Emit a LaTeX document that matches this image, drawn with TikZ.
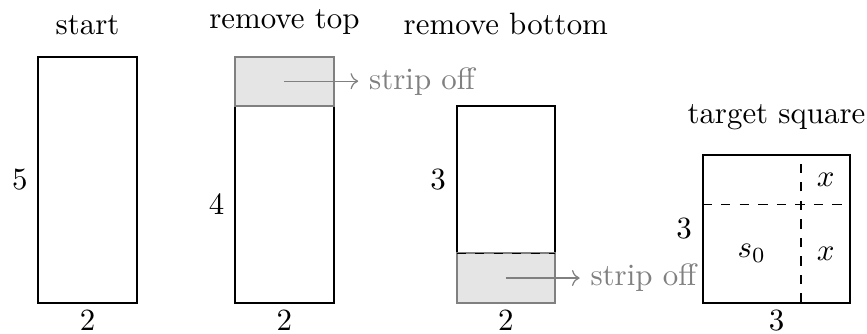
\documentclass[tikz,border=0pt]{standalone}
\usepackage{tikz}
\usetikzlibrary{arrows.meta, positioning, calc}

\begin{document}
\begin{tikzpicture}[x=0.56cm, y=0.56cm,
  box/.style={draw=black, semithick},
  strip/.style={draw=gray, semithick, fill=gray!20},
  cut/.style={dashed, thin},
  arrow/.style={->, gray},
  note/.style={text=gray, anchor=west},
  title/.style={anchor=south},
  width/.style={below=2.3pt, inner sep=0pt},
]
\useasboundingbox (-0.78,-0.62) rectangle (16.84,6.15);

% start
\draw[box] (0,0) rectangle (2,5);
\node[title] (t1) at (1,5.23) {start};
\node[left]  (h1) at (0,2.5) {5};
\node[width] (w1) at (1,0) {2};

% remove top
\draw[box] (4,0) rectangle (6,4);
\draw[strip] (4,4) rectangle (6,5);
\coordinate (c2) at (5,4.5);
\node[note]  (n2) at (6.5,4.5) {strip off};
\draw[arrow] (c2) -- (n2);
\node[title] (t2) at (5,5.23) {remove top};
\node[left]  (h2) at (4,2) {4};
\node[width] (w2) at (5,0) {2};

% remove bottom
\draw[box] (8.5,1) rectangle (10.5,4);
\draw[strip] (8.5,0) rectangle (10.5,1);
\draw[cut] (8.5,1) -- (10.5,1);
\coordinate (c3) at (9.5,0.5);
\node[note]  (n3) at (11,0.5) {strip off};
\draw[arrow] (c3) -- (n3);
\node[title] (t3) at (9.5,5.23) {remove bottom};
\node[left]  (h3) at (8.5,2.5) {3};
\node[width] (w3) at (9.5,0) {2};

% target square
\draw[box] (13.5,0) rectangle (16.5,3);
\draw[cut] (13.5,2) -- (16.5,2);
\draw[cut] (15.5,0) -- (15.5,3);
\node (s0) at (14.5,1) {$s_0$};
\node (x1) at (16,2.5) {$x$};
\node (x2) at (16,1) {$x$};
\node[title] (t4) at (15,3.28) {target square};
\node[left]  (h4) at (13.5,1.5) {3};
\node[width] (w4) at (15,0) {3};
\end{tikzpicture}
\end{document}
